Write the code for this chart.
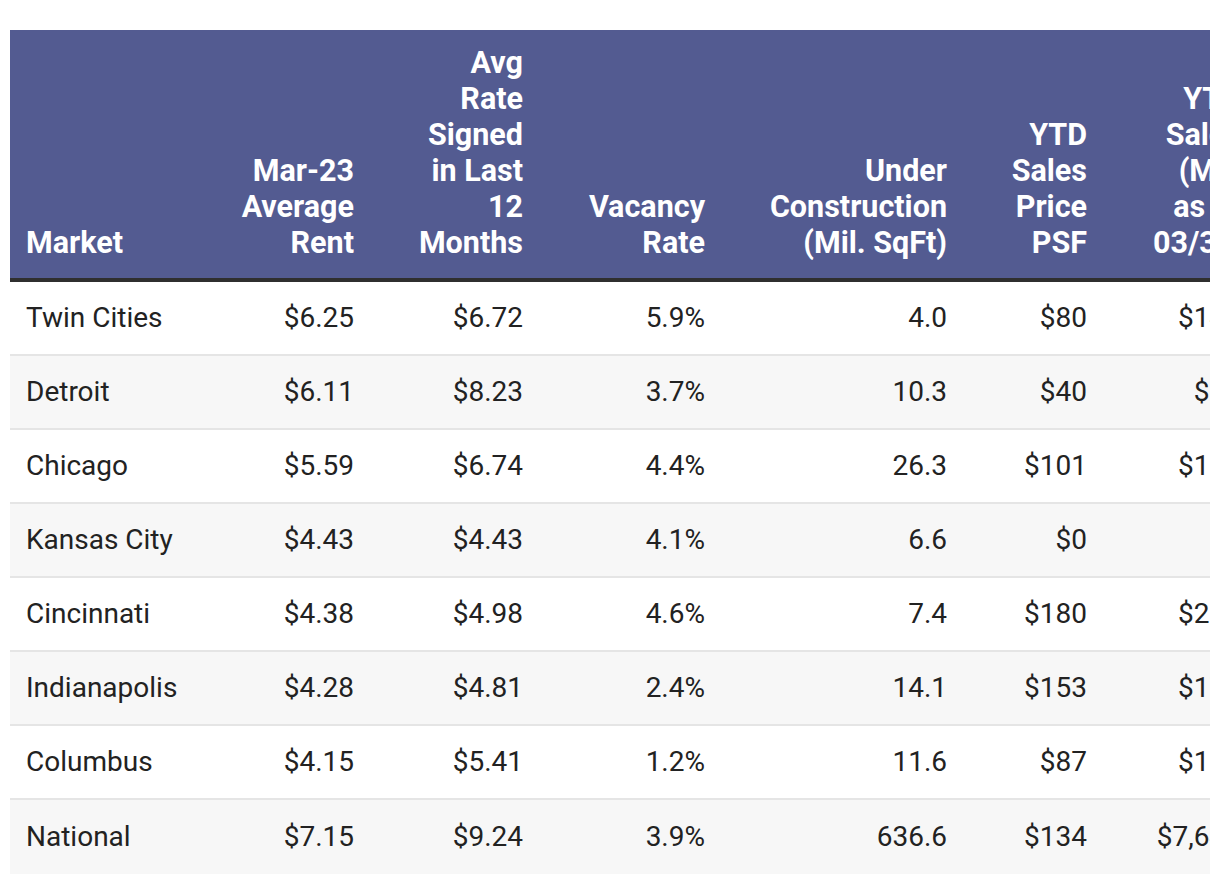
import React from "react";

// Industrial market snapshot, Mar-23
const markets = ["Twin Cities", "Detroit", "Chicago", "Kansas City", "Cincinnati", "Indianapolis", "Columbus", "National"];
const avgRent = [6.25, 6.11, 5.59, 4.43, 4.38, 4.28, 4.15, 7.15];
const signedRate = [6.72, 8.23, 6.74, 4.43, 4.98, 4.81, 5.41, 9.24];
const vacancy = [5.9, 3.7, 4.4, 4.1, 4.6, 2.4, 1.2, 3.9];
const underConstruction = [4.0, 10.3, 26.3, 6.6, 7.4, 14.1, 11.6, 636.6];
const salesPsf = [80, 40, 101, 0, 180, 153, 87, 134];
// last column is cut off in the source, the hidden digits are guesses
const salesVolume = [142, 58, 196, 0, 213, 171, 124, 7642];

const headers = [
  "Market",
  "Mar-23 Average Rent",
  "Avg Rate Signed in Last 12 Months",
  "Vacancy Rate",
  "Under Construction (Mil. SqFt)",
  "YTD Sales Price PSF",
  "YTD Sales (Mil. as of 03/31)",
];

const money = (v: number) => "$" + v.toFixed(2);
const pct = (v: number) => v.toFixed(1) + "%";
const one = (v: number) => v.toFixed(1);
const dollars = (v: number) => "$" + v.toLocaleString("en-US");

const columns = [
  { values: markets, fmt: (v: string) => v, width: 200, wrap: 0, align: "left" },
  { values: avgRent, fmt: money, width: 161, wrap: 118, align: "right" },
  { values: signedRate, fmt: money, width: 169, wrap: 114, align: "right" },
  { values: vacancy, fmt: pct, width: 182, wrap: 130, align: "right" },
  { values: underConstruction, fmt: one, width: 242, wrap: 200, align: "right" },
  { values: salesPsf, fmt: dollars, width: 140, wrap: 82, align: "right" },
  { values: salesVolume, fmt: dollars, width: 154, wrap: 88, align: "right" },
] as const;

const FONT = "Roboto, 'Noto Sans', sans-serif";

export default function App() {
  return (
    <div style={{ position: "absolute", left: 10, top: 30, width: 1200, height: 852, overflow: "hidden", background: "#fff" }}>
      <table
        style={{
          tableLayout: "fixed",
          borderCollapse: "separate",
          borderSpacing: 0,
          width: columns.reduce((s, c) => s + c.width, 0),
          fontFamily: FONT,
          color: "#222",
        }}
      >
        <colgroup>
          {columns.map((c, i) => (
            <col key={i} style={{ width: c.width }} />
          ))}
        </colgroup>
        <thead>
          <tr>
            {columns.map((c, i) => (
              <th
                key={i}
                style={{
                  height: 252,
                  boxSizing: "border-box",
                  background: "#535b91",
                  color: "#fff",
                  fontSize: 30.5,
                  lineHeight: "36px",
                  fontWeight: 700,
                  verticalAlign: "bottom",
                  textAlign: c.align,
                  padding: i === 0 ? "0 17px 17px 16px" : "0 17px 17px 17px",
                  borderBottom: "4px solid #2f2f2f",
                }}
              >
                <div style={{ width: c.wrap || "auto", marginLeft: c.align === "right" ? "auto" : 0 }}>{headers[i]}</div>
              </th>
            ))}
          </tr>
        </thead>
        <tbody>
          {markets.map((m, r) => (
            <tr key={m} style={{ background: r % 2 ? "#f7f7f7" : "#fff" }}>
              {columns.map((c, i) => (
                <td
                  key={i}
                  style={{
                    height: 74,
                    boxSizing: "border-box",
                    fontSize: 28,
                    lineHeight: "32px",
                    textAlign: c.align,
                    padding: i === 0 ? "0 17px 0 16px" : "0 17px",
                    whiteSpace: "nowrap",
                    borderBottom: r < markets.length - 1 ? "2px solid #e5e5e5" : "none",
                  }}
                >
                  {(c.fmt as (v: any) => string)(c.values[r])}
                </td>
              ))}
            </tr>
          ))}
        </tbody>
      </table>
    </div>
  );
}
